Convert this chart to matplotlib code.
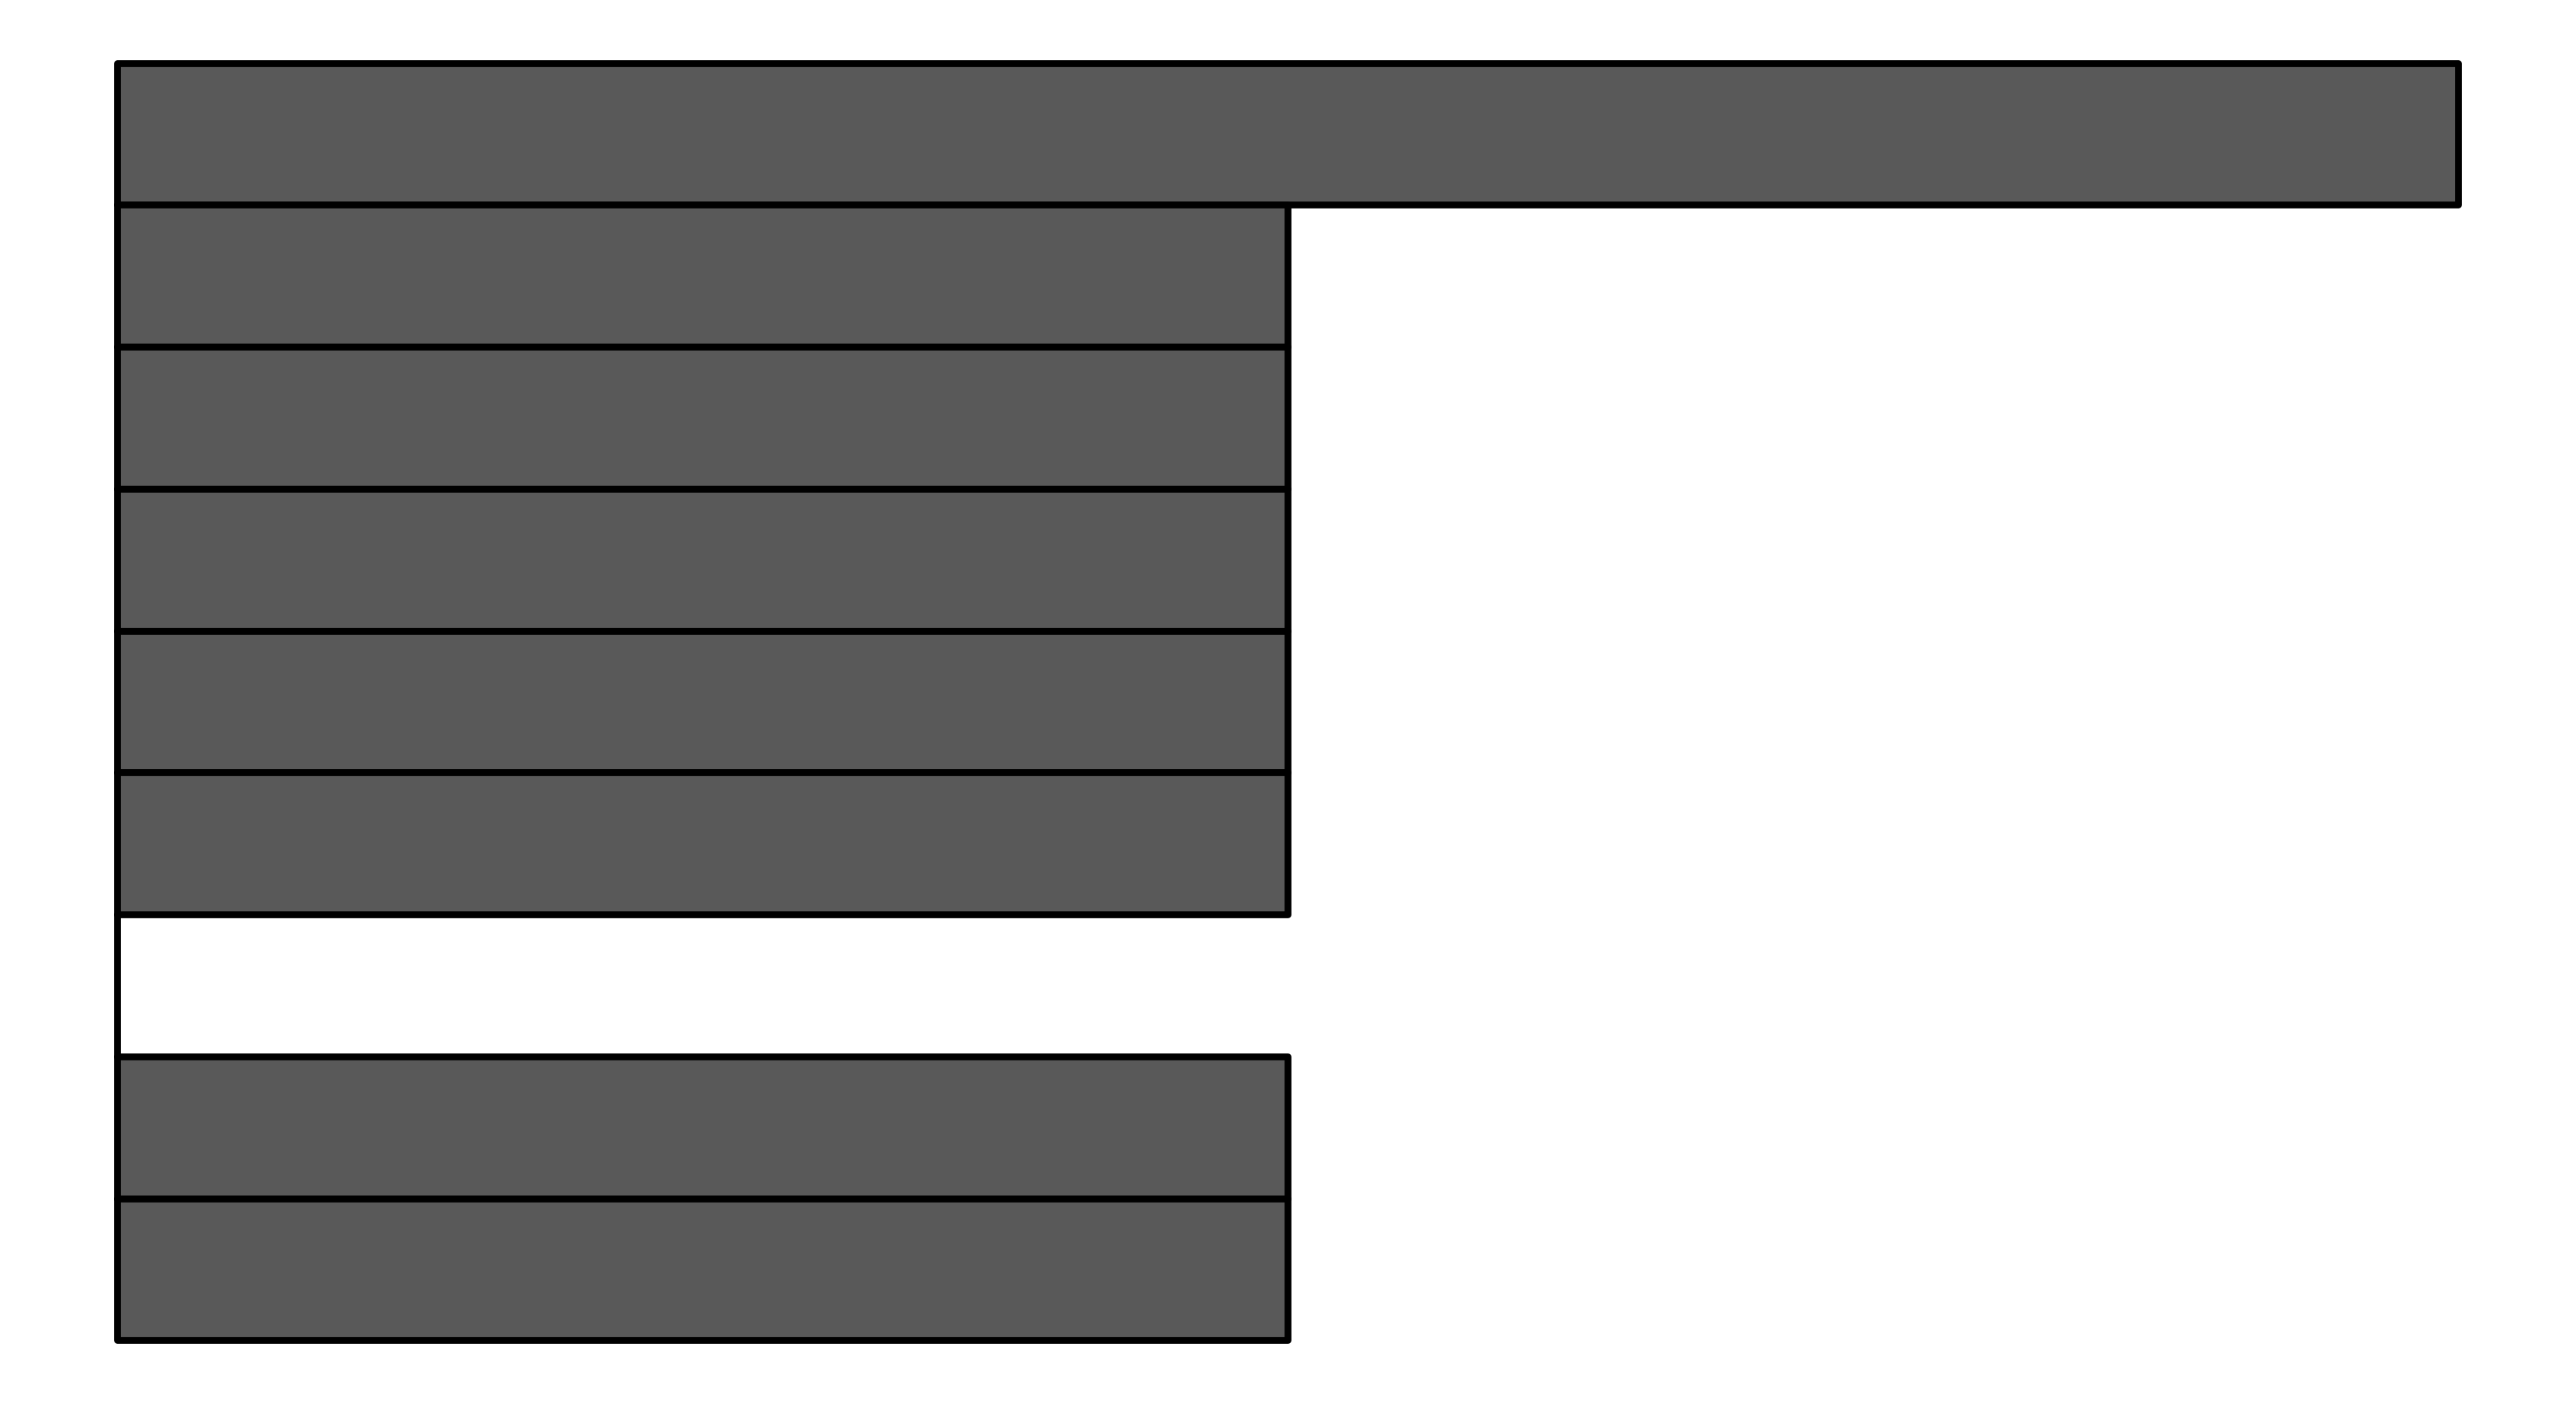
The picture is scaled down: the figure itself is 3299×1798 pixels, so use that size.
import matplotlib
matplotlib.use("Agg")
import matplotlib.pyplot as plt

# bars from top to bottom; the empty slot is a zero-length bar
categories = ["a", "b", "c", "d", "e", "f", "g", "h", "i"]
values = [2, 1, 1, 1, 1, 1, 0, 1, 1]

fig = plt.figure(figsize=(32.99, 17.99), dpi=100)
ax = fig.add_axes([0.04547, 0.04541, 0.90891, 0.90918])

ypos = list(range(len(categories)))[::-1]
bars = ax.barh(
    ypos,
    values,
    height=1.0,
    color="#595959",
    edgecolor="black",
    linewidth=6.3,
    joinstyle="round",
    capstyle="round",
)
for b in bars:
    b.set_clip_on(False)

ax.set_xlim(0, max(values))
ax.set_ylim(-0.5, len(categories) - 0.5)
ax.axis("off")

fig.savefig("out.png", dpi=100)
